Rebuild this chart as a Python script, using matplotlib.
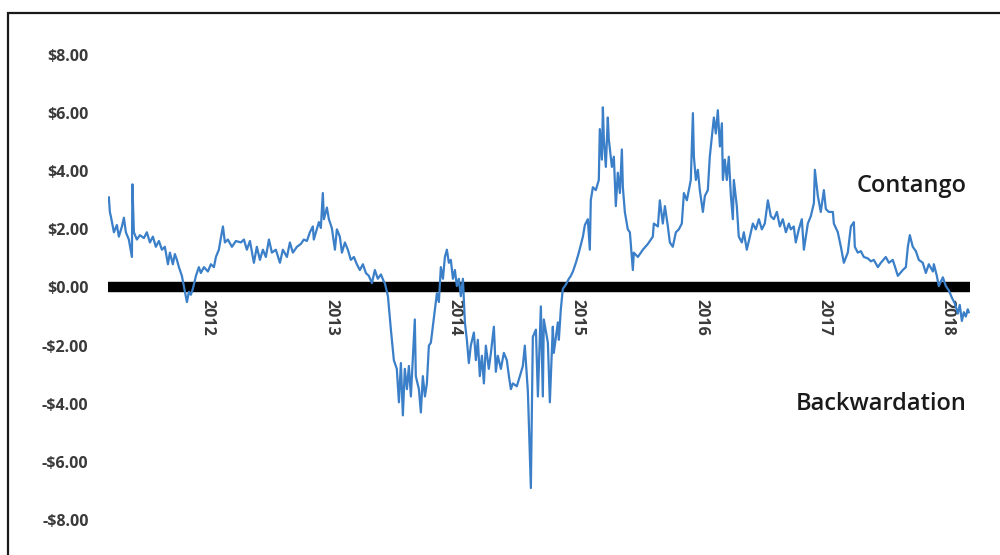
import matplotlib
matplotlib.use("Agg")
import matplotlib.pyplot as plt
from matplotlib.patches import Rectangle

# spread (decimal year, $)
years = [
    2011.197, 2011.205, 2011.213, 2011.238, 2011.262, 2011.278, 2011.303, 2011.319, 2011.335, 2011.359,
    2011.384, 2011.388, 2011.400, 2011.424, 2011.449, 2011.481, 2011.505, 2011.530, 2011.554, 2011.578,
    2011.603, 2011.627, 2011.651, 2011.676, 2011.692, 2011.716, 2011.732, 2011.749, 2011.765, 2011.789,
    2011.805, 2011.830, 2011.846, 2011.862, 2011.878, 2011.903, 2011.927, 2011.943, 2011.968, 2012.000,
    2012.024, 2012.049, 2012.065, 2012.089, 2012.105, 2012.122, 2012.138, 2012.162, 2012.195, 2012.227,
    2012.268, 2012.292, 2012.316, 2012.341, 2012.373, 2012.397, 2012.422, 2012.446, 2012.470, 2012.495,
    2012.519, 2012.551, 2012.584, 2012.608, 2012.641, 2012.665, 2012.689, 2012.722, 2012.754, 2012.778,
    2012.803, 2012.827, 2012.851, 2012.859, 2012.876, 2012.900, 2012.916, 2012.932, 2012.941, 2012.965,
    2012.981, 2013.005, 2013.030, 2013.046, 2013.070, 2013.087, 2013.111, 2013.135, 2013.159, 2013.184,
    2013.208, 2013.232, 2013.257, 2013.281, 2013.305, 2013.330, 2013.354, 2013.378, 2013.403, 2013.427,
    2013.435, 2013.460, 2013.484, 2013.508, 2013.532, 2013.549, 2013.565, 2013.581, 2013.597, 2013.614,
    2013.630, 2013.646, 2013.678, 2013.686, 2013.711, 2013.727, 2013.743, 2013.760, 2013.776, 2013.792,
    2013.808, 2013.824, 2013.841, 2013.857, 2013.873, 2013.889, 2013.906, 2013.922, 2013.938, 2013.954,
    2013.970, 2013.987, 2014.003, 2014.019, 2014.035, 2014.051, 2014.068, 2014.084, 2014.100, 2014.116,
    2014.132, 2014.157, 2014.173, 2014.189, 2014.205, 2014.222, 2014.238, 2014.254, 2014.278, 2014.295,
    2014.319, 2014.335, 2014.351, 2014.376, 2014.400, 2014.424, 2014.441, 2014.457, 2014.473, 2014.505,
    2014.530, 2014.554, 2014.570, 2014.595, 2014.619, 2014.635, 2014.660, 2014.676, 2014.700, 2014.716,
    2014.724, 2014.757, 2014.773, 2014.797, 2014.805, 2014.838, 2014.846, 2014.862, 2014.878, 2014.903,
    2014.927, 2014.943, 2014.960, 2014.984, 2015.008, 2015.041, 2015.057, 2015.081, 2015.097, 2015.105,
    2015.122, 2015.146, 2015.170, 2015.178, 2015.195, 2015.203, 2015.211, 2015.227, 2015.243, 2015.251,
    2015.276, 2015.292, 2015.308, 2015.324, 2015.341, 2015.357, 2015.365, 2015.381, 2015.405, 2015.422,
    2015.446, 2015.454, 2015.487, 2015.527, 2015.568, 2015.608, 2015.616, 2015.649, 2015.665, 2015.689,
    2015.706, 2015.730, 2015.746, 2015.770, 2015.795, 2015.819, 2015.843, 2015.860, 2015.884, 2015.900,
    2015.916, 2015.933, 2015.941, 2015.957, 2015.973, 2015.989, 2016.014, 2016.030, 2016.054, 2016.070,
    2016.103, 2016.119, 2016.135, 2016.152, 2016.168, 2016.176, 2016.192, 2016.208, 2016.224, 2016.241,
    2016.257, 2016.265, 2016.289, 2016.305, 2016.330, 2016.346, 2016.370, 2016.395, 2016.419, 2016.443,
    2016.468, 2016.492, 2016.516, 2016.541, 2016.565, 2016.589, 2016.614, 2016.638, 2016.662, 2016.687,
    2016.711, 2016.727, 2016.751, 2016.767, 2016.792, 2016.816, 2016.833, 2016.865, 2016.889, 2016.914,
    2016.922, 2016.946, 2016.970, 2016.995, 2017.011, 2017.035, 2017.068, 2017.076, 2017.108, 2017.133,
    2017.157, 2017.189, 2017.214, 2017.238, 2017.246, 2017.270, 2017.295, 2017.319, 2017.352, 2017.376,
    2017.400, 2017.433, 2017.457, 2017.497, 2017.522, 2017.554, 2017.595, 2017.635, 2017.660, 2017.676,
    2017.692, 2017.716, 2017.741, 2017.765, 2017.797, 2017.822, 2017.846, 2017.879, 2017.887, 2017.911,
    2017.927, 2017.960, 2017.984, 2018.008, 2018.033, 2018.057, 2018.081, 2018.097, 2018.114, 2018.130,
    2018.146, 2018.162, 2018.170,
]
spread = [
    3.1, 2.6, 2.45, 1.9, 2.15, 1.75, 2.1, 2.4, 1.9, 1.65,
    1.05, 3.55, 1.9, 1.65, 1.8, 1.7, 1.9, 1.55, 1.75, 1.4,
    1.6, 1.3, 1.4, 0.8, 1.2, 0.8, 1.15, 0.95, 0.7, 0.4,
    0.05, -0.5, -0.15, -0.25, -0.05, 0.4, 0.7, 0.5, 0.7, 0.55,
    0.8, 0.7, 1.05, 1.3, 1.7, 2.1, 1.55, 1.65, 1.4, 1.6,
    1.55, 1.65, 1.3, 1.6, 0.85, 1.4, 0.95, 1.3, 1.05, 1.65,
    1.2, 1.3, 0.85, 1.3, 1.05, 1.55, 1.2, 1.4, 1.5, 1.65,
    1.6, 1.9, 2.1, 1.65, 1.9, 2.25, 2.05, 3.25, 2.35, 2.75,
    2.35, 2.05, 1.3, 2.0, 1.75, 1.2, 1.55, 1.3, 0.95, 1.05,
    0.8, 0.6, 0.8, 0.5, 0.4, 0.15, 0.6, 0.3, 0.45, 0.2,
    0.15, -0.3, -1.45, -2.5, -2.8, -3.95, -2.6, -4.4, -2.8, -3.5,
    -2.7, -3.75, -1.1, -3.05, -3.5, -4.3, -3.05, -3.75, -3.3, -2.0,
    -1.9, -1.35, -0.75, -0.2, -0.5, 0.7, 0.3, 1.05, 1.3, 0.85,
    0.95, 0.3, 0.6, 0.05, 0.3, -0.3, 0.3, -1.2, -1.8, -2.6,
    -2.0, -1.55, -2.5, -1.8, -3.05, -2.35, -3.3, -2.0, -2.8, -2.25,
    -1.35, -2.9, -2.35, -2.8, -2.25, -2.5, -3.05, -3.5, -3.3, -3.4,
    -3.05, -2.7, -2.0, -3.6, -6.9, -1.7, -1.45, -3.75, -0.65, -3.75,
    -1.1, -1.9, -3.95, -1.35, -2.25, -1.2, -1.8, -0.75, -0.05, 0.1,
    0.3, 0.4, 0.55, 0.85, 1.2, 1.75, 2.15, 2.35, 1.3, 3.0,
    3.45, 3.35, 3.7, 5.45, 4.4, 6.2, 5.1, 4.15, 5.85, 5.1,
    4.15, 4.5, 2.8, 3.95, 3.25, 4.75, 3.45, 2.6, 2.0, 1.9,
    0.6, 1.2, 1.05, 1.3, 1.5, 1.75, 2.2, 2.1, 3.0, 2.2,
    2.8, 2.1, 1.55, 1.4, 1.9, 2.0, 2.2, 3.25, 3.0, 3.35,
    3.7, 6.0, 4.5, 3.7, 4.05, 3.35, 2.6, 3.15, 3.35, 4.5,
    5.85, 5.3, 6.1, 4.85, 5.65, 3.7, 4.4, 3.7, 4.5, 3.15,
    2.35, 3.7, 2.8, 1.75, 1.55, 1.9, 1.3, 1.75, 2.2, 2.0,
    2.35, 2.0, 2.2, 3.0, 2.45, 2.35, 2.6, 2.1, 2.35, 1.9,
    2.2, 2.0, 2.1, 1.55, 2.0, 2.35, 1.3, 2.2, 2.45, 2.9,
    4.05, 3.15, 2.6, 3.35, 2.7, 2.6, 2.6, 2.2, 1.9, 1.4,
    0.85, 1.2, 2.1, 2.25, 1.4, 1.2, 1.25, 1.05, 1.0, 0.9,
    0.95, 0.7, 0.85, 1.05, 0.85, 0.95, 0.4, 0.6, 0.7, 1.4,
    1.8, 1.4, 1.25, 0.95, 0.85, 0.5, 0.8, 0.55, 0.8, 0.4,
    0.05, 0.35, 0.05, -0.1, -0.35, -0.55, -0.9, -0.6, -1.15, -0.85,
    -1.0, -0.75, -0.85,
]

year_ticks = [2012, 2013, 2014, 2015, 2016, 2017, 2018]
y_ticks = [8, 6, 4, 2, 0, -2, -4, -6, -8]
y_labels = ["$8.00", "$6.00", "$4.00", "$2.00", "$0.00", "-$2.00", "-$4.00", "-$6.00", "-$8.00"]

plt.rcParams['font.family'] = ['Open Sans', 'DejaVu Sans']

fig = plt.figure(figsize=(10, 5.55), dpi=100)
ax = fig.add_axes([0.108, 0.0631, 0.862, 0.8378])

ax.plot(years, spread, color='#3a7fc8', linewidth=1.6, zorder=3)

ax.set_xlim(2011.19, 2018.18)
ax.set_ylim(-8, 8)

# zero line doubles as x axis
for s in ['top', 'right', 'left']:
    ax.spines[s].set_visible(False)
ax.spines['bottom'].set_position(('data', 0))
ax.spines['bottom'].set_linewidth(7.5)
ax.spines['bottom'].set_color('black')
ax.spines['bottom'].set_capstyle('butt')

ax.set_xticks(year_ticks)
ax.set_xticklabels([str(y) for y in year_ticks], rotation=-90, fontsize=11.5,
                   color='#3a3a3a', fontweight='bold')
ax.tick_params(axis='x', length=0, pad=8.5)

ax.set_yticks(y_ticks)
ax.set_yticklabels(y_labels, fontsize=11.5, color='#3a3a3a', fontweight='bold')
ax.tick_params(axis='y', length=0, pad=14)

ax.text(2017.71, 3.5, 'Contango', ha='center', va='center', fontsize=17,
        color='#1a1a1a', fontweight='semibold')
ax.text(2017.457, -4.02, 'Backwardation', ha='center', va='center', fontsize=17,
        color='#1a1a1a', fontweight='semibold')

# outer frame
fig.patches.append(Rectangle((0.008, -0.05), 1.1, 1.05 - 13 / 555, transform=fig.transFigure,
                             fill=False, edgecolor='#1a1a1a', linewidth=1.6))

fig.savefig('out.png', dpi=100)
